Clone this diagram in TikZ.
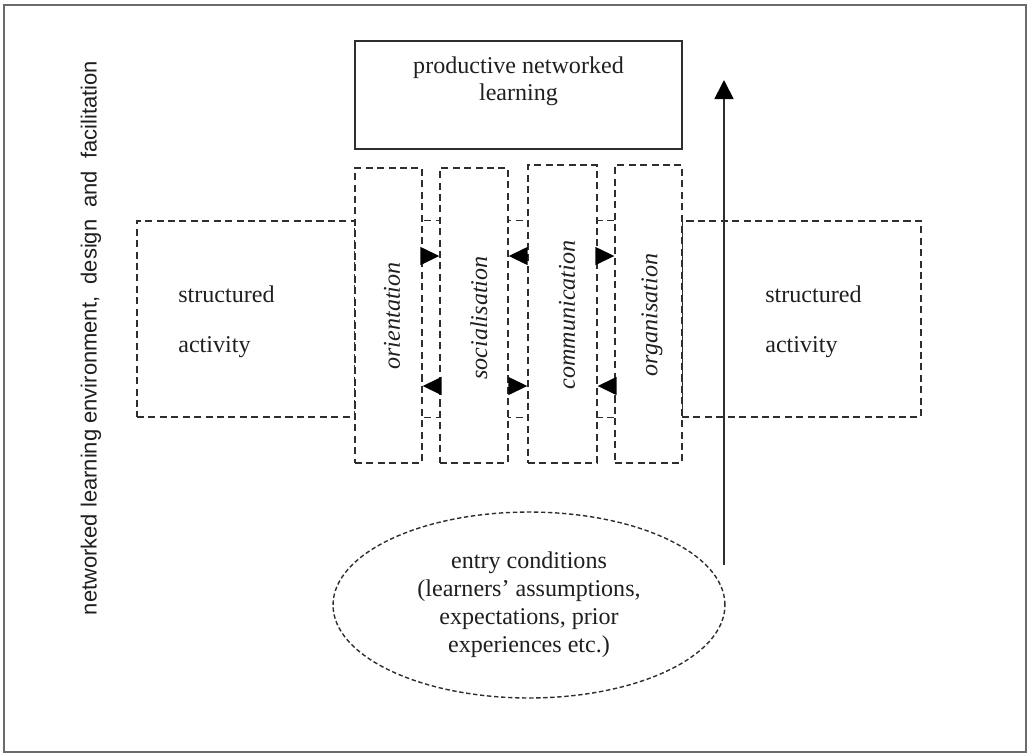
\documentclass[tikz,border=0pt]{standalone}
\usepackage{fontspec}
\setmainfont{Liberation Serif}
\newfontfamily\arialfont{Liberation Sans}
\usetikzlibrary{arrows.meta,shapes.geometric}
\definecolor{ln}{gray}{0.18}
\definecolor{txt}{gray}{0.12}
\definecolor{framec}{gray}{0.42}
\begin{document}
\begin{tikzpicture}[x=0.02cm,y=-0.02cm,
  dbox/.style={draw=ln, line width=0.8pt, dash pattern=on 4pt off 2.5pt, inner sep=0pt},
  vbox/.style={dbox, fill=white},
  lbl/.style={font=\fontsize{13.7}{15.5}\selectfont, text=txt, inner sep=0pt},
  vlbl/.style={lbl, font=\fontsize{13.7}{15.5}\selectfont\itshape, rotate=90},
  arr/.style={draw=black, line width=0.8pt, -{Triangle[length=0.38cm,width=0.36cm]}},
  uparr/.style={draw=ln, line width=1pt, -{Triangle[length=0.38cm,width=0.38cm, color=black]}}
]
\useasboundingbox (0,0) rectangle (1029,755);
\draw[framec, line width=1.4pt] (4,5) rectangle (1026,752);

% side label
\node[rotate=90, inner sep=0pt, text=txt, font=\arialfont\fontsize{12.5}{14}\selectfont] (side) at (91,338)
  {networked learning environment,\ \ design\ \ and\ \ facilitation};

% top box
\node[draw=ln, line width=0.9pt, minimum width=6.54cm, minimum height=2.16cm, inner sep=0pt] (prod) at (518.5,95) {};
\node[lbl, align=center, font=\fontsize{13.7}{15.4}\selectfont] (prodtxt) at (518.5,81) {productive networked\\learning};

% structured activity boxes
\node[dbox, minimum width=4.36cm, minimum height=3.92cm] (leftact) at (246,319) {};
\node[dbox, minimum width=4.78cm, minimum height=3.92cm] (rightact) at (801.5,319) {};
\draw[ln, line width=0.8pt, dash pattern=on 4pt off 2.5pt] (leftact.north east) -- (rightact.north west);
\draw[ln, line width=0.8pt, dash pattern=on 4pt off 2.5pt] (leftact.south east) -- (rightact.south west);

\node[lbl, anchor=base west] (ls) at (178,302) {structured};
\node[lbl, anchor=base west] (la) at (178,352) {activity};
\node[lbl, anchor=base west] (rs) at (765,302) {structured};
\node[lbl, anchor=base west] (ra) at (765,352) {activity};

% vertical phase boxes
\node[vbox, minimum width=1.34cm, minimum height=5.9cm] (ori) at (388.5,315.5) {};
\node[vbox, minimum width=1.36cm, minimum height=5.9cm] (soc) at (474,315.5) {};
\node[vbox, minimum width=1.38cm, minimum height=5.96cm] (com) at (562.5,314) {};
\node[vbox, minimum width=1.34cm, minimum height=5.96cm] (org) at (648.5,314) {};

\node[vlbl] (oril) at (392,316) {orientation};
\node[vlbl] (socl) at (479,318) {socialisation};
\node[vlbl] (coml) at (567,315) {communication};
\node[vlbl] (orgl) at (652,315) {organisation};

% arrows between phases
\draw[arr] (ori.east |- 0,256) -- (soc.west |- 0,256);
\draw[arr] (soc.west |- 0,386) -- (ori.east |- 0,386);
\draw[arr] (com.west |- 0,256) -- (soc.east |- 0,256);
\draw[arr] (soc.east |- 0,386) -- (com.west |- 0,386);
\draw[arr] (com.east |- 0,256) -- (org.west |- 0,256);
\draw[arr] (org.west |- 0,386) -- (com.east |- 0,386);

% entry conditions
\node[ellipse, draw=ln, line width=0.8pt, dash pattern=on 2.5pt off 1.5pt, minimum width=7.84cm, minimum height=3.72cm, inner sep=0pt, text=txt, align=center, font=\fontsize{13.7}{15.9}\selectfont] (entry) at (529,605)
  {entry conditions\\(learners' assumptions,\\expectations, prior\\experiences etc.)};

% upward arrow
\coordinate (up0) at (724,565);
\coordinate (up1) at (724,80);
\draw[uparr] (up0) -- (up1);
\end{tikzpicture}
\end{document}
